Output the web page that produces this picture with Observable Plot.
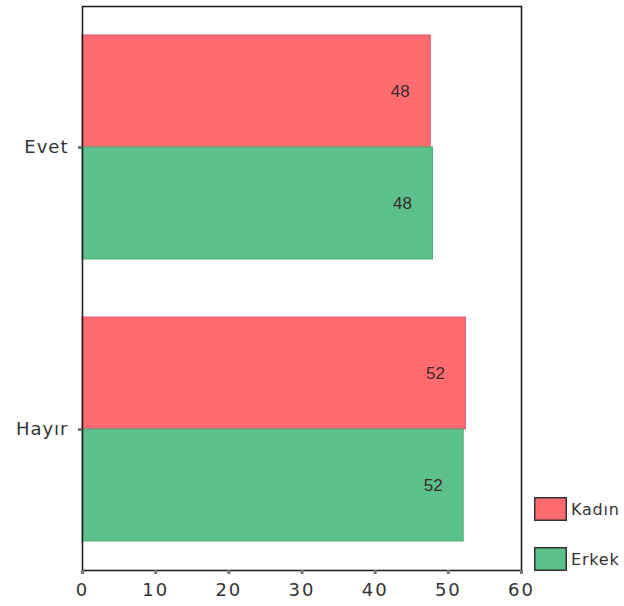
<!DOCTYPE html>
<html>
<head>
<meta charset="utf-8">
<script src="https://cdn.jsdelivr.net/npm/d3@7"></script>
<script src="https://cdn.jsdelivr.net/npm/@observablehq/plot@0.6"></script>
<style>
  html, body { margin: 0; padding: 0; background: #fff; }
  #wrap { position: relative; width: 624px; height: 606px; overflow: hidden; }
  #legend { position: absolute; left: 534px; top: 496px; font-family: "DejaVu Sans", sans-serif; font-size: 16px; color: #333; letter-spacing: 0.8px; }
  .sw { display: flex; align-items: center; height: 26px; margin-bottom: 24px; white-space: nowrap; }
  .sw svg { margin-right: 4px; }
</style>
</head>
<body>
<div id="wrap"></div>
<script>
const categories = ["Evet", "Hayır"];
const genders = ["Kadın", "Erkek"];
const kadin = [47.6, 52.4];
const erkek = [47.9, 52.1];
const xTicks = [0, 10, 20, 30, 40, 50, 60];
const colors = ["#ff6b6e", "#5cc08a"];
const strokes = ["#e8507a", "#4aae78"];

const data = [];
categories.forEach((c, i) => {
  data.push({cat: c, gender: genders[0], value: kadin[i]});
  data.push({cat: c, gender: genders[1], value: erkek[i]});
});

const chart = Plot.plot({
  width: 624,
  height: 606,
  marginLeft: 82,
  marginRight: 103,
  marginTop: 5,
  marginBottom: 36,
  style: {fontFamily: "DejaVu Sans, sans-serif", color: "#333", background: "#fff"},
  x: {domain: [0, 60], axis: null},
  y: {domain: genders, paddingInner: 0, paddingOuter: 0.25, axis: null},
  fy: {domain: categories, padding: 0, axis: null},
  color: {domain: genders, range: colors},
  marks: [
    Plot.barX(data, {fy: "cat", y: "gender", x: "value", fill: "gender",
      stroke: d => strokes[genders.indexOf(d.gender)], strokeWidth: 1}),
    Plot.text(data, {fy: "cat", y: "gender", x: "value", text: d => String(Math.round(d.value)),
      textAnchor: "end", dx: -21, fontSize: 17, fontFamily: "Liberation Sans, Arial, sans-serif",
      fill: "#3a2a2a", className: "vlabel"}),
    Plot.frame({facet: "super", stroke: "#222", strokeWidth: 1.6}),
    Plot.axisX({ticks: xTicks, tickSize: 4, tickPadding: 9, strokeWidth: 3, stroke: "#777",
      fontSize: 18, label: null, anchor: "bottom", className: "xax"}),
    Plot.axisFy({anchor: "left", tickSize: 4, tickPadding: 10, strokeWidth: 3, stroke: "#777",
      fontSize: 18, label: null})
  ]
});
chart.style.letterSpacing = "1px";
chart.querySelectorAll(".vlabel text, text.vlabel, g.vlabel text").forEach(t => t.style.letterSpacing = "0px");
chart.querySelectorAll(".xax text, g.xax text").forEach(t => t.style.letterSpacing = "2px");
document.getElementById("wrap").appendChild(chart);

const legend = document.createElement("div");
legend.id = "legend";
genders.forEach((g, i) => {
  const row = document.createElement("div");
  row.className = "sw";
  row.innerHTML = `<svg width="33" height="24"><rect x="0.75" y="0.75" width="31.5" height="22.5" fill="${colors[i]}" stroke="#333" stroke-width="1.5"></rect></svg><span>${g}</span>`;
  legend.appendChild(row);
});
document.getElementById("wrap").appendChild(legend);
</script>
</body>
</html>
